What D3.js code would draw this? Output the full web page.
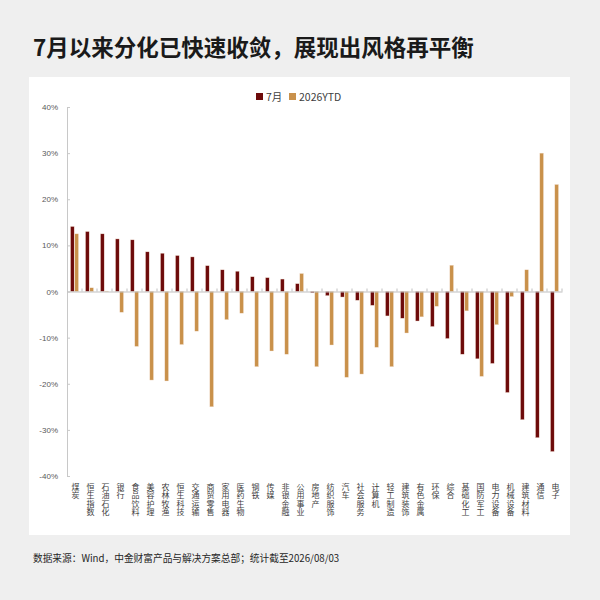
<!DOCTYPE html>
<html>
<head>
<meta charset="utf-8">
<script src="https://cdn.jsdelivr.net/npm/d3@7"></script>
<style>
  body { margin: 0; background: #efefef; }
  svg { display: block; font-family: "Noto Sans CJK SC", "Noto Sans", sans-serif; }
</style>
</head>
<body>
<svg width="600" height="600"></svg>
<script>
// 行业名称
var categories = ['煤炭', '恒生指数', '石油石化', '银行', '食品饮料', '美容护理', '农林牧渔', '恒生科技', '交通运输', '商贸零售',
  '家用电器', '医药生物', '钢铁', '传媒', '非银金融', '公用事业', '房地产', '纺织服饰', '汽车', '社会服务',
  '计算机', '轻工制造', '建筑装饰', '有色金属', '环保', '综合', '基础化工', '国防军工', '电力设备', '机械设备',
  '建筑材料', '通信', '电子']
// 7月以来涨跌幅 (%)
var july = [14.1, 13.0, 12.5, 11.4, 11.2, 8.6, 8.3, 7.8, 7.5, 5.6,
  4.7, 4.4, 3.2, 3.0, 2.7, 1.7, -0.3, -0.9, -1.2, -1.9,
  -3.0, -5.3, -5.8, -6.4, -7.6, -10.2, -13.6, -14.6, -15.6, -21.9,
  -27.8, -31.7, -34.7]
// 2026年初至今涨跌幅 (%)
var ytd = [12.5, 0.8, 0.1, -4.5, -11.9, -19.2, -19.4, -11.5, -8.6, -25.0,
  -6.1, -4.7, -16.3, -12.9, -13.6, 3.9, -16.3, -11.6, -18.6, -17.9,
  -12.1, -16.3, -9.0, -5.5, -3.2, 5.7, -4.2, -18.4, -7.2, -1.1,
  4.7, 30.0, 23.2]
var seriesNames = ['7月', '2026YTD']
var yTicks = [40, 30, 20, 10, 0, -10, -20, -30, -40]

var colors = { '7月': '#6d0a0a', '2026YTD': '#c9914b' }

var svg = d3.select('svg')

// 白色面板
svg.append('rect')
  .attr('x', 29).attr('y', 77)
  .attr('width', 541).attr('height', 458)
  .attr('fill', '#fff')

// 标题
svg.append('text')
  .attr('x', 33).attr('y', 56)
  .attr('font-size', 22.5)
  .attr('font-weight', 'bold')
  .attr('fill', '#1a1a1a')
  .text('7月以来分化已快速收敛，展现出风格再平衡')

// 图例
var legend = svg.append('g').attr('transform', 'translate(256, 97)')
var legendX = [0, 33]
seriesNames.forEach(function (name, i) {
  var g = legend.append('g').attr('transform', 'translate(' + legendX[i] + ',0)')
  g.append('rect').attr('x', 0).attr('y', -4).attr('width', 7).attr('height', 7).attr('fill', colors[name])
  g.append('text').attr('x', 10).attr('y', 3.5)
    .attr('font-size', 10.5).attr('fill', '#404040').text(name)
})

var x = d3.scaleBand()
  .domain(categories)
  .range([67, 562])

var xInner = d3.scaleBand()
  .domain(seriesNames)
  .range([0, 8])
  .paddingInner(0.15)

var y = d3.scaleLinear()
  .domain([-40, 40])
  .range([476, 107])

// y轴
var yAxis = d3.axisLeft(y)
  .tickValues(yTicks)
  .tickFormat(function (d) { return d + '%' })
  .tickSize(-3)
  .tickPadding(9)

var gy = svg.append('g')
  .attr('transform', 'translate(67,0)')
  .call(yAxis)
gy.select('.domain').attr('stroke', '#c8c8c8')
gy.selectAll('.tick line').attr('stroke', '#c8c8c8')
gy.selectAll('.tick text')
  .attr('font-size', 8)
  .attr('fill', '#595959')
  .attr('font-family', '"Liberation Sans", sans-serif')

// 柱子
var rows = categories.map(function (c, i) {
  return { cat: c, values: [{ key: '7月', v: july[i] }, { key: '2026YTD', v: ytd[i] }] }
})

var groups = svg.append('g').selectAll('g')
  .data(rows)
  .enter()
  .append('g')
  .attr('transform', function (d) { return 'translate(' + (x(d.cat) + (x.bandwidth() - 8) / 2) + ',0)' })

groups.selectAll('rect')
  .data(function (d) { return d.values })
  .enter()
  .append('rect')
  .attr('x', function (d) { return xInner(d.key) })
  .attr('width', xInner.bandwidth())
  .attr('y', function (d) { return y(Math.max(0, d.v)) })
  .attr('height', function (d) { return Math.abs(y(d.v) - y(0)) })
  .attr('fill', function (d) { return colors[d.key] })
  .attr('stroke', '#f3e3d6')
  .attr('stroke-width', 0.4)

// 零线与刻度
var xAxis = d3.axisBottom(x)
  .tickSize(0)
  .tickFormat('')
var gx = svg.append('g')
  .attr('transform', 'translate(0,' + y(0) + ')')
  .call(xAxis)
gx.select('.domain').attr('stroke', '#bfbfbf')
gx.selectAll('.tick').remove()

svg.append('g').selectAll('line')
  .data(categories)
  .enter()
  .append('line')
  .attr('x1', function (d) { return x(d) + x.bandwidth() })
  .attr('x2', function (d) { return x(d) + x.bandwidth() })
  .attr('y1', y(0) - 3)
  .attr('y2', y(0))
  .attr('stroke', '#bfbfbf')

// 行业标签（竖排）
svg.append('g').selectAll('text')
  .data(categories)
  .enter()
  .append('text')
  .attr('font-size', 8)
  .attr('fill', '#404040')
  .style('writing-mode', 'vertical-rl')
  .style('text-orientation', 'upright')
  .style('letter-spacing', '0.4px')
  .attr('x', function (d) { return x(d) + x.bandwidth() / 2 + 1 })
  .attr('y', 483)
  .text(function (d) { return d })

// 脚注
svg.append('text')
  .attr('x', 33).attr('y', 562)
  .attr('font-size', 9.7)
  .attr('fill', '#262626')
  .text('数据来源：Wind，中金财富产品与解决方案总部；统计截至2026/08/03')
</script>
</body>
</html>
